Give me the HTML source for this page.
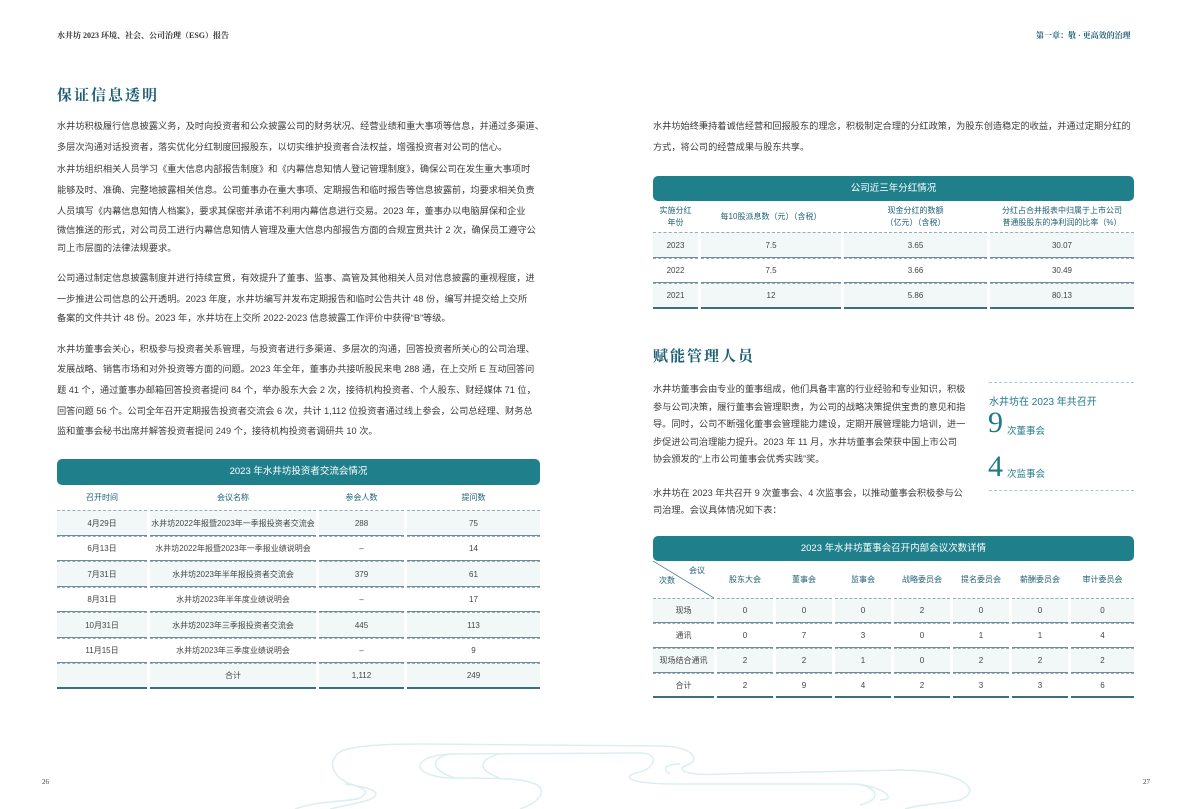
<!DOCTYPE html>
<html><head><meta charset="utf-8">
<style>
*{margin:0;padding:0;box-sizing:border-box}
body{width:1191px;height:809px;background:#fff;position:relative;overflow:hidden;font-family:"Liberation Sans","Noto Sans CJK SC",sans-serif;color:#3a3a3a}
.a{position:absolute;white-space:nowrap}
.t{font-size:9.2px;color:#3b3b3b}
.h{font-family:"Liberation Serif","Noto Serif CJK SC",serif;font-size:15px;color:#1d5f75;letter-spacing:2px;font-weight:bold}
.hd{font-family:"Liberation Serif","Noto Serif CJK SC",serif;font-size:8px;font-weight:bold}
.bar{position:absolute;background:#1f808c;color:#fff;font-size:9.5px;text-align:center;border-radius:5px}
table{position:absolute;border-collapse:separate;border-spacing:3px 0;font-size:8px;color:#444;text-align:center;table-layout:fixed}
th{color:#1d5f75;font-weight:normal;font-size:8px}
td{border-top:1px dashed #9aabb3;border-bottom:1px solid #6f8d99;white-space:nowrap}
tr.s td{background:#f2f8f8}
tr.last td{border-bottom:2px solid #3c6e80}
</style></head><body>
<div class="a hd" style="left:57px;top:30px;color:#333">水井坊 2023 环境、社会、公司治理（ESG）报告</div>
<div class="a hd" style="left:1036px;top:30px;color:#1d5f75">第一章：敬 · 更高效的治理</div>

<div class="a h" style="left:57px;top:84px">保证信息透明</div>
<div class="a t" style="left:57px;top:118px">水井坊积极履行信息披露义务，及时向投资者和公众披露公司的财务状况、经营业绩和重大事项等信息，并通过多渠道、</div>
<div class="a t" style="left:57px;top:139px">多层次沟通对话投资者，落实优化分红制度回报股东，以切实维护投资者合法权益，增强投资者对公司的信心。</div>
<div class="a t" style="left:57px;top:161px">水井坊组织相关人员学习《重大信息内部报告制度》和《内幕信息知情人登记管理制度》，确保公司在发生重大事项时</div>
<div class="a t" style="left:57px;top:182px">能够及时、准确、完整地披露相关信息。公司董事办在重大事项、定期报告和临时报告等信息披露前，均要求相关负责</div>
<div class="a t" style="left:57px;top:203px">人员填写《内幕信息知情人档案》，要求其保密并承诺不利用内幕信息进行交易。2023 年，董事办以电脑屏保和企业</div>
<div class="a t" style="left:57px;top:222px">微信推送的形式，对公司员工进行内幕信息知情人管理及重大信息内部报告方面的合规宣贯共计 2 次，确保员工遵守公</div>
<div class="a t" style="left:57px;top:240px">司上市层面的法律法规要求。</div>
<div class="a t" style="left:57px;top:270px">公司通过制定信息披露制度并进行持续宣贯，有效提升了董事、监事、高管及其他相关人员对信息披露的重视程度，进</div>
<div class="a t" style="left:57px;top:291px">一步推进公司信息的公开透明。2023 年度，水井坊编写并发布定期报告和临时公告共计 48 份，编写并提交给上交所</div>
<div class="a t" style="left:57px;top:310px">备案的文件共计 48 份。2023 年，水井坊在上交所 2022-2023 信息披露工作评价中获得“B”等级。</div>
<div class="a t" style="left:57px;top:341px">水井坊董事会关心，积极参与投资者关系管理，与投资者进行多渠道、多层次的沟通，回答投资者所关心的公司治理、</div>
<div class="a t" style="left:57px;top:361px">发展战略、销售市场和对外投资等方面的问题。2023 年全年，董事办共接听股民来电 288 通，在上交所 E 互动回答问</div>
<div class="a t" style="left:57px;top:382px">题 41 个，通过董事办邮箱回答投资者提问 84 个，举办股东大会 2 次，接待机构投资者、个人股东、财经媒体 71 位，</div>
<div class="a t" style="left:57px;top:403px">回答问题 56 个。公司全年召开定期报告投资者交流会 6 次，共计 1,112 位投资者通过线上参会，公司总经理、财务总</div>
<div class="a t" style="left:57px;top:423px">监和董事会秘书出席并解答投资者提问 249 个，接待机构投资者调研共 10 次。</div>

<div class="bar" style="left:57px;top:459px;width:483px;height:26px;line-height:26px">2023 年水井坊投资者交流会情况</div>
<table style="left:54px;top:485px;width:489px">
<colgroup><col style="width:90px"><col style="width:166px"><col style="width:85px"><col></colgroup>
<tr style="height:25px"><th>召开时间</th><th>会议名称</th><th>参会人数</th><th>提问数</th></tr>
<tr class="s" style="height:26px"><td>4月29日</td><td>水井坊2022年报暨2023年一季报投资者交流会</td><td>288</td><td>75</td></tr>
<tr style="height:25px"><td>6月13日</td><td>水井坊2022年报暨2023年一季报业绩说明会</td><td>–</td><td>14</td></tr>
<tr class="s" style="height:26px"><td>7月31日</td><td>水井坊2023年半年报投资者交流会</td><td>379</td><td>61</td></tr>
<tr style="height:25px"><td>8月31日</td><td>水井坊2023年半年度业绩说明会</td><td>–</td><td>17</td></tr>
<tr class="s" style="height:26px"><td>10月31日</td><td>水井坊2023年三季报投资者交流会</td><td>445</td><td>113</td></tr>
<tr style="height:25px"><td>11月15日</td><td>水井坊2023年三季度业绩说明会</td><td>–</td><td>9</td></tr>
<tr class="s last" style="height:26px"><td></td><td>合计</td><td>1,112</td><td>249</td></tr>
</table>

<div class="a t" style="left:653px;top:118px">水井坊始终秉持着诚信经营和回报股东的理念，积极制定合理的分红政策，为股东创造稳定的收益，并通过定期分红的</div>
<div class="a t" style="left:653px;top:139px">方式，将公司的经营成果与股东共享。</div>

<div class="bar" style="left:653px;top:176px;width:481px;height:25px;line-height:25px">公司近三年分红情况</div>
<table style="left:650px;top:201px;width:487px">
<colgroup><col style="width:45px"><col style="width:140px"><col style="width:143px"><col></colgroup>
<tr style="height:31px"><th style="line-height:12px">实施分红<br>年份</th><th>每10股派息数（元）（含税）</th><th style="line-height:12px">现金分红的数额<br>（亿元）（含税）</th><th style="line-height:12px">分红占合并报表中归属于上市公司<br>普通股股东的净利润的比率（%）</th></tr>
<tr class="s" style="height:26px"><td>2023</td><td>7.5</td><td>3.65</td><td>30.07</td></tr>
<tr style="height:25px"><td>2022</td><td>7.5</td><td>3.66</td><td>30.49</td></tr>
<tr class="s last" style="height:26px"><td>2021</td><td>12</td><td>5.86</td><td>80.13</td></tr>
</table>

<div class="a h" style="left:653px;top:345px">赋能管理人员</div>
<div class="a t" style="left:653px;top:381px">水井坊董事会由专业的董事组成，他们具备丰富的行业经验和专业知识，积极</div>
<div class="a t" style="left:653px;top:399px">参与公司决策，履行董事会管理职责，为公司的战略决策提供宝贵的意见和指</div>
<div class="a t" style="left:653px;top:416px">导。同时，公司不断强化董事会管理能力建设，定期开展管理能力培训，进一</div>
<div class="a t" style="left:653px;top:434px">步促进公司治理能力提升。2023 年 11 月，水井坊董事会荣获中国上市公司</div>
<div class="a t" style="left:653px;top:451px">协会颁发的“上市公司董事会优秀实践”奖。</div>
<div class="a t" style="left:653px;top:485px">水井坊在 2023 年共召开 9 次董事会、4 次监事会，以推动董事会积极参与公</div>
<div class="a t" style="left:653px;top:502px">司治理。会议具体情况如下表：</div>

<div class="a" style="left:989px;top:382px;width:145px;border-top:1px dashed #a9c9cf"></div>
<div class="a" style="left:989px;top:490px;width:145px;border-top:1px dashed #a9c9cf"></div>
<div class="a" style="left:989px;top:393px;font-size:10px;color:#1f7a88">水井坊在 2023 年共召开</div>
<div class="a" style="left:988px;top:408px;font-family:'Liberation Serif',serif;font-size:30px;color:#1f7a88;line-height:30px">9</div>
<div class="a" style="left:1007px;top:423px;font-size:9.5px;color:#1f7a88">次董事会</div>
<div class="a" style="left:988px;top:452px;font-family:'Liberation Serif',serif;font-size:30px;color:#1f7a88;line-height:30px">4</div>
<div class="a" style="left:1007px;top:466px;font-size:9.5px;color:#1f7a88">次监事会</div>

<div class="bar" style="left:653px;top:536px;width:481px;height:25px;line-height:25px">2023 年水井坊董事会召开内部会议次数详情</div>
<table style="left:650px;top:561px;width:487px">
<colgroup><col style="width:61px"><col style="width:56px"><col style="width:56px"><col style="width:56px"><col style="width:56px"><col style="width:56px"><col style="width:56px"><col></colgroup>
<tr style="height:37px"><th style="position:relative"><svg style="position:absolute;left:0;top:0" width="61" height="37"><line x1="0" y1="0" x2="61" y2="37" stroke="#1d5f75" stroke-width="0.6"/></svg><span style="position:absolute;left:36px;top:4px">会议</span><span style="position:absolute;left:6px;top:14px">次数</span></th><th>股东大会</th><th>董事会</th><th>监事会</th><th>战略委员会</th><th>提名委员会</th><th>薪酬委员会</th><th>审计委员会</th></tr>
<tr class="s" style="height:25px"><td>现场</td><td>0</td><td>0</td><td>0</td><td>2</td><td>0</td><td>0</td><td>0</td></tr>
<tr style="height:25px"><td>通讯</td><td>0</td><td>7</td><td>3</td><td>0</td><td>1</td><td>1</td><td>4</td></tr>
<tr class="s" style="height:25px"><td>现场结合通讯</td><td>2</td><td>2</td><td>1</td><td>0</td><td>2</td><td>2</td><td>2</td></tr>
<tr class="last" style="height:25px"><td>合计</td><td>2</td><td>9</td><td>4</td><td>2</td><td>3</td><td>3</td><td>6</td></tr>
</table>

<svg class="a" style="left:0;top:700px" width="1191" height="109" fill="none" stroke="#dceef0" stroke-width="1.5">
<path d="M295 109 C320 100 350 102 360 98 C370 92 365 88 350 84 C330 75 328 60 340 52 C350 46 380 44 420 44 L660 46 C690 46 700 58 690 64 C670 70 690 76 720 74 L900 70 C960 70 985 90 960 100 C940 104 920 104 905 109"/>
<path d="M330 109 C360 102 380 100 375 92 C370 88 360 86 345 84"/>
<path d="M520 109 C545 100 545 88 535 84 C520 78 500 78 450 78 C410 76 410 56 450 54 L640 53 C660 53 655 68 640 72 C620 76 625 84 680 84 L850 84 C880 84 900 100 880 100"/>
<path d="M455 78 C430 70 430 58 450 54 M500 78 C475 70 480 58 500 54 M670 74 C660 68 668 64 680 64 M860 84 C880 90 880 100 860 105"/>
</svg>
<div class="a" style="left:42px;top:778px;font-size:7px;font-family:'Liberation Serif',serif">26</div>
<div class="a" style="left:1143px;top:778px;font-size:7px;font-family:'Liberation Serif',serif">27</div>
</body></html>
